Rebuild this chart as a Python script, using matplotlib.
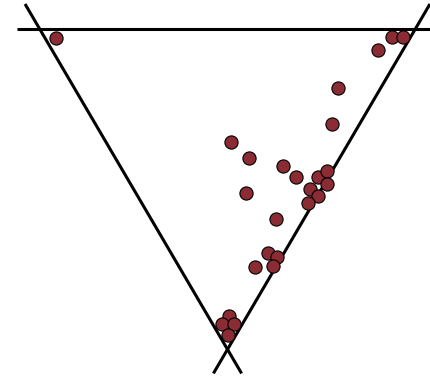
import numpy as np
import matplotlib
matplotlib.use("Agg")
from matplotlib import pyplot as plt

# sample positions inside the triangle (x across the top edge, y depth below it)
xs = [0.043, 0.937, 0.968, 0.900, 0.795, 0.779, 0.509, 0.558, 0.649, 0.682,
      0.741, 0.765, 0.764, 0.720, 0.741, 0.715, 0.548, 0.629, 0.609, 0.633,
      0.622, 0.574, 0.504, 0.485, 0.518, 0.501]
ys = [0.023, 0.022, 0.022, 0.057, 0.156, 0.252, 0.301, 0.343, 0.364, 0.395,
      0.393, 0.377, 0.413, 0.426, 0.445, 0.463, 0.437, 0.506, 0.596, 0.606,
      0.630, 0.634, 0.763, 0.786, 0.786, 0.815]

h = 0.853  # depth of the lower corner

fig = plt.figure(figsize=(4.31, 3.78), dpi=100)
ax = fig.add_axes([0, 0, 1, 1])
ax.set_xlim(-0.1057, 1.0418)
ax.set_ylim(0.9292, -0.0772)
ax.axis("off")

# triangle edges, each drawn a bit past its corners
ax.plot([-0.061, 1.1], [0, 0], color="black", lw=2.2, solid_capstyle="butt")
t = np.array([-0.078, 1.075])
ax.plot(0.5 * t, h * t, color="black", lw=2.2, solid_capstyle="butt")
ax.plot(1 - 0.5 * t, h * t, color="black", lw=2.2, solid_capstyle="butt")

ax.scatter(xs, ys, s=90, color="#8b2c35", edgecolor="black", linewidth=0.8, zorder=3)

fig.savefig("out.png", dpi=100)
